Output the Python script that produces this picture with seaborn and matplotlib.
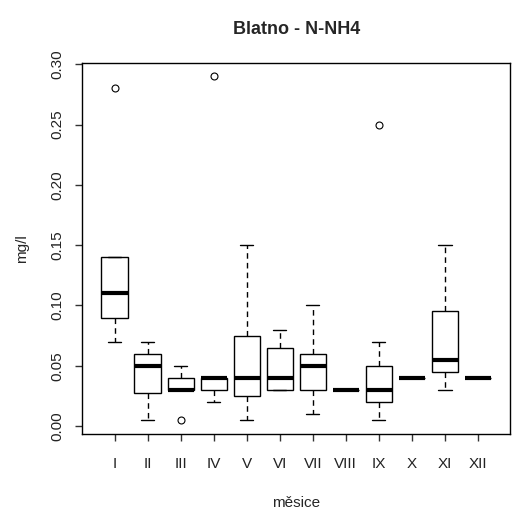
import matplotlib
matplotlib.use("Agg")
import matplotlib.pyplot as plt
import seaborn as sns
import pandas as pd

# Monthly N-NH4 measurements (mg/l) at Blatno
months = ["I", "II", "III", "IV", "V", "VI", "VII", "VIII", "IX", "X", "XI", "XII"]
m_I = [0.07, 0.09, 0.11, 0.14, 0.28]
m_II = [0.005, 0.0275, 0.05, 0.06, 0.07]
m_III = [0.005, 0.03, 0.03, 0.04, 0.05]
m_IV = [0.02, 0.03, 0.04, 0.04, 0.29]
m_V = [0.005, 0.025, 0.04, 0.075, 0.15]
m_VI = [0.03, 0.03, 0.04, 0.065, 0.08]
m_VII = [0.01, 0.03, 0.05, 0.06, 0.10]
m_VIII = [0.03, 0.03, 0.03]
m_IX = [0.005, 0.01, 0.02, 0.025, 0.03, 0.04, 0.05, 0.07, 0.25]
m_X = [0.04, 0.04, 0.04]
m_XI = [0.03, 0.045, 0.055, 0.095, 0.15]
m_XII = [0.04, 0.04, 0.04]
series = [m_I, m_II, m_III, m_IV, m_V, m_VI, m_VII, m_VIII, m_IX, m_X, m_XI, m_XII]
y_ticks = [0.00, 0.05, 0.10, 0.15, 0.20, 0.25, 0.30]

rows = [(m, v) for m, vals in zip(months, series) for v in vals]
df = pd.DataFrame(rows, columns=["mesic", "value"])

sns.set_style("white")
plt.rcParams["font.family"] = ["Liberation Sans", "DejaVu Sans"]

fig = plt.figure(figsize=(5.16, 5.18), dpi=100)
ax = fig.add_axes([0.1595, 0.1627, 0.8295, 0.7163])

sns.boxplot(
    data=df, x="mesic", y="value", order=months, ax=ax,
    color="white", width=0.8, linewidth=1.0, whis=1.5,
    boxprops=dict(edgecolor="black", facecolor="white", linewidth=1.0),
    whiskerprops=dict(color="black", linestyle=(0, (4, 3)), linewidth=1.0),
    capprops=dict(color="black", linewidth=1.0),
    medianprops=dict(color="black", linewidth=3.0, solid_capstyle="butt"),
    flierprops=dict(marker="o", markersize=5, markerfacecolor="none",
                    markeredgecolor="black", markeredgewidth=0.8),
)

ax.set_xlim(-0.98, 11.98)
ax.set_ylim(-0.0064, 0.3014)
ax.set_yticks(y_ticks)
ax.set_yticklabels([f"{t:.2f}" for t in y_ticks], rotation=90, va="center")
for lab in ax.get_yticklabels():
    lab.set_va("center")

for side in ["left", "right", "top", "bottom"]:
    ax.spines[side].set_visible(True)
    ax.spines[side].set_color("black")
    ax.spines[side].set_linewidth(1.0)

ax.tick_params(axis="both", direction="out", length=5, width=1, color="#333333",
               labelsize=11, labelcolor="#222222", left=True, bottom=True)
ax.tick_params(axis="y", pad=8)
ax.tick_params(axis="x", pad=12)

ax.set_xlabel("měsice", fontsize=11, labelpad=18)
ax.set_ylabel("mg/l", fontsize=11, labelpad=15)
ax.set_title("Blatno - N-NH4", fontsize=13, fontweight="bold", pad=21)

fig.savefig("out.png", dpi=100)
